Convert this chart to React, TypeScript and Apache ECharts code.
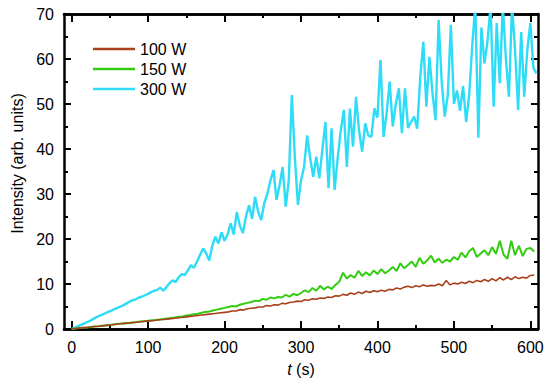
import React, { useEffect, useRef } from "react";
import * as echarts from "echarts";

// sample steps (s)
const STEP_300 = 4;
const STEP_LOW = 5;

const SERIES_NAMES = ["100 W", "150 W", "300 W"];
const X_MAJOR = [0, 100, 200, 300, 400, 500, 600];
const X_MINOR = [50, 150, 250, 350, 450, 550];

// 300 W intensity, every 4 s from t = 0
const W300 = [
  0, 0.3, 0.6, 0.9, 1.2, 1.5, 1.8, 2.2, 2.6, 2.9, 3.2, 3.5, 3.8, 4.1, 4.4, 4.7, 5.0, 5.3, 5.7, 6.1,
  6.4, 6.6, 7.0, 7.2, 7.5, 7.8, 8.2, 8.5, 8.7, 9.2, 8.5, 9.3, 10.2, 10.8, 10.4, 11.5, 12.2, 12.0, 13.0, 14.2,
  13.6, 15.0, 16.5, 17.9, 16.8, 15.2, 18.5, 20.5, 19.0, 21.5, 19.6, 21.0, 23.5, 21.0, 26.0, 23.0, 21.3, 25.0, 27.5, 24.5,
  29.4, 26.0, 24.2, 28.0, 30.0, 33.0, 35.3, 28.7, 32.0, 36.0, 27.2, 33.0, 52.0, 38.0, 27.6, 33.0, 36.0, 43.0, 38.0, 33.8,
  38.3, 33.5, 40.0, 46.0, 31.3, 44.6, 30.9, 38.0, 44.0, 48.7, 36.0, 49.0, 40.5, 51.6, 44.0, 39.4, 45.7, 43.0, 42.7, 49.0,
  47.0, 59.8, 42.7, 48.0, 55.0, 45.0, 50.0, 53.5, 43.5, 53.5, 44.7, 46.0, 47.2, 44.5, 56.0, 63.8, 49.4, 60.5, 52.4, 46.4,
  68.7, 55.0, 47.2, 52.0, 67.6, 50.0, 53.0, 48.5, 54.0, 46.0, 52.0, 63.0, 72.0, 42.5, 67.0, 59.0, 64.0, 72.0, 49.4, 68.0,
  54.6, 72.0, 60.0, 51.6, 72.0, 62.0, 48.7, 66.0, 51.6, 62.0, 68.0, 58.0, 56.8,
];

// 150 W intensity, every 5 s from t = 0
const W150 = [
  0.0, 0.1, 0.2, 0.3, 0.35, 0.45, 0.55, 0.6, 0.7, 0.8, 0.9, 1.0, 1.1, 1.2, 1.3, 1.35, 1.45, 1.55, 1.65, 1.75,
  1.85, 1.95, 2.0, 2.1, 2.25, 2.35, 2.45, 2.55, 2.7, 2.8, 3.0, 3.1, 3.3, 3.4, 3.6, 3.8, 3.9, 4.1, 4.3, 4.5,
  4.7, 4.9, 5.1, 5.0, 5.4, 5.6, 5.8, 6.0, 6.3, 6.2, 6.7, 6.5, 7.0, 6.8, 7.1, 7.0, 7.6, 7.2, 7.8, 7.5,
  8.0, 8.6, 8.2, 9.1, 8.5, 9.6, 8.8, 9.4, 8.9, 9.8, 10.5, 12.5, 11.2, 12.0, 11.4, 12.9, 11.8, 12.6, 11.9, 13.0,
  12.2, 13.3, 12.4, 13.0, 13.8, 12.9, 14.6, 13.5, 14.2, 15.0, 13.8, 15.8, 14.5, 15.2, 16.3, 14.8, 15.6, 14.7, 15.4, 15.0,
  16.0, 15.4, 17.0, 15.9, 17.3, 18.0, 16.0, 16.8, 17.5, 16.4, 18.2, 16.7, 19.6, 16.5, 15.6, 19.6, 16.4, 18.5, 16.2, 17.8,
  18.0, 17.2,
];

// 100 W intensity, every 5 s from t = 0
const W100 = [
  0.0, 0.1, 0.2, 0.3, 0.35, 0.45, 0.55, 0.6, 0.7, 0.8, 0.9, 1.0, 1.1, 1.15, 1.25, 1.35, 1.45, 1.5, 1.6, 1.7,
  1.8, 1.85, 1.95, 2.05, 2.1, 2.2, 2.3, 2.4, 2.5, 2.6, 2.7, 2.8, 2.9, 3.0, 3.1, 3.2, 3.3, 3.4, 3.5, 3.6,
  3.7, 3.8, 4.0, 4.0, 4.3, 4.2, 4.5, 4.6, 4.7, 4.9, 4.9, 5.2, 5.1, 5.4, 5.3, 5.7, 5.6, 5.9, 6.0, 6.2,
  6.1, 6.5, 6.4, 6.7, 6.6, 6.9, 6.8, 7.1, 7.0, 7.4, 7.3, 7.7, 7.5, 8.0, 7.7, 8.2, 7.9, 8.4, 8.1, 8.5,
  8.3, 8.6, 8.4, 8.8, 8.7, 9.1, 8.9, 9.3, 9.5, 9.2, 9.6, 9.4, 9.8, 9.5, 9.7, 9.6, 10.0, 9.6, 10.8, 9.8,
  10.2, 10.0, 10.4, 10.1, 10.6, 10.3, 10.8, 10.5, 11.0, 10.6, 11.2, 10.7, 11.4, 10.9, 11.5, 11.0, 11.6, 11.2, 11.5, 11.3,
  11.9, 12.0,
];

const FONT = "'Liberation Sans', Arial, sans-serif";

export default function App() {
  const ref = useRef<HTMLDivElement>(null);
  useEffect(() => {
    if (!ref.current) return;
    const chart = echarts.init(ref.current, undefined, { renderer: "svg" });
    const pts = (arr: number[], step: number) => arr.map((v, i) => [i * step, v]);
    const axisLine = { show: true, onZero: false, lineStyle: { color: "#000", width: 2.5 } };
    const xBase = { type: "value", min: -10, max: 610, gridIndex: 0, splitLine: { show: false }, axisLine };
    const option: any = {
      animation: false,
      backgroundColor: "#fff",
      textStyle: { fontFamily: FONT },
      grid: { left: 64, top: 14, width: 474, height: 315, containLabel: false },
      legend: {
        data: SERIES_NAMES,
        orient: "vertical",
        left: 88,
        top: 36,
        icon: "rect",
        itemWidth: 42,
        itemHeight: 2.5,
        itemGap: 4,
        textStyle: { fontSize: 16, color: "#000", fontFamily: FONT },
      },
      xAxis: [
        {
          ...xBase,
          position: "bottom",
          name: "{i|t} (s)",
          nameLocation: "middle",
          nameGap: 32,
          nameTextStyle: {
            fontSize: 16,
            color: "#000",
            fontFamily: FONT,
            rich: { i: { fontStyle: "italic", fontSize: 16, color: "#000", fontFamily: FONT } },
          },
          axisTick: { show: true, inside: true, length: 8, lineStyle: { color: "#000", width: 2 }, customValues: X_MAJOR },
          axisLabel: { show: true, customValues: X_MAJOR, fontSize: 16, color: "#000", margin: 10, fontFamily: FONT },
        },
        {
          ...xBase,
          position: "bottom",
          axisTick: { show: true, inside: true, length: 4, lineStyle: { color: "#000", width: 2 }, customValues: X_MINOR },
          axisLabel: { show: false },
        },
        {
          ...xBase,
          position: "top",
          axisTick: { show: true, inside: true, length: 8, lineStyle: { color: "#000", width: 2 }, customValues: X_MAJOR },
          axisLabel: { show: false },
        },
        {
          ...xBase,
          position: "top",
          axisTick: { show: true, inside: true, length: 4, lineStyle: { color: "#000", width: 2 }, customValues: X_MINOR },
          axisLabel: { show: false },
        },
      ],
      yAxis: [
        {
          type: "value",
          min: 0,
          max: 70,
          interval: 10,
          position: "left",
          name: "Intensity (arb. units)",
          nameLocation: "middle",
          nameGap: 38,
          nameTextStyle: { fontSize: 16, color: "#000", fontFamily: FONT, padding: [0, 0, 0, 16] },
          axisLine,
          splitLine: { show: false },
          axisTick: { show: true, inside: true, length: 7, lineStyle: { color: "#000", width: 2 } },
          minorTick: { show: true, splitNumber: 2, length: 4, lineStyle: { color: "#000", width: 2 } },
          axisLabel: { fontSize: 16, color: "#000", margin: 10, fontFamily: FONT },
        },
        {
          type: "value",
          min: 0,
          max: 70,
          interval: 10,
          position: "right",
          axisLine,
          splitLine: { show: false },
          axisTick: { show: true, inside: true, length: 7, lineStyle: { color: "#000", width: 2 } },
          minorTick: { show: true, splitNumber: 2, length: 4, lineStyle: { color: "#000", width: 2 } },
          axisLabel: { show: false },
        },
      ],
      series: [
        {
          name: "300 W",
          type: "line",
          data: pts(W300, STEP_300),
          showSymbol: false,
          clip: true,
          color: "#2edcf8",
          lineStyle: { color: "#2edcf8", width: 2.4 },
          z: 2,
        },
        {
          name: "150 W",
          type: "line",
          data: pts(W150, STEP_LOW),
          showSymbol: false,
          clip: true,
          color: "#33cc11",
          lineStyle: { color: "#33cc11", width: 2 },
          z: 3,
        },
        {
          name: "100 W",
          type: "line",
          data: pts(W100, STEP_LOW),
          showSymbol: false,
          clip: true,
          color: "#a8401c",
          lineStyle: { color: "#a8401c", width: 1.6 },
          z: 4,
        },
      ],
    };
    chart.setOption(option);
    return () => chart.dispose();
  }, []);
  return (
    <div
      ref={ref}
      style={{ position: "fixed", left: 0, top: 0, width: 550, height: 382, background: "#fff" }}
    />
  );
}
